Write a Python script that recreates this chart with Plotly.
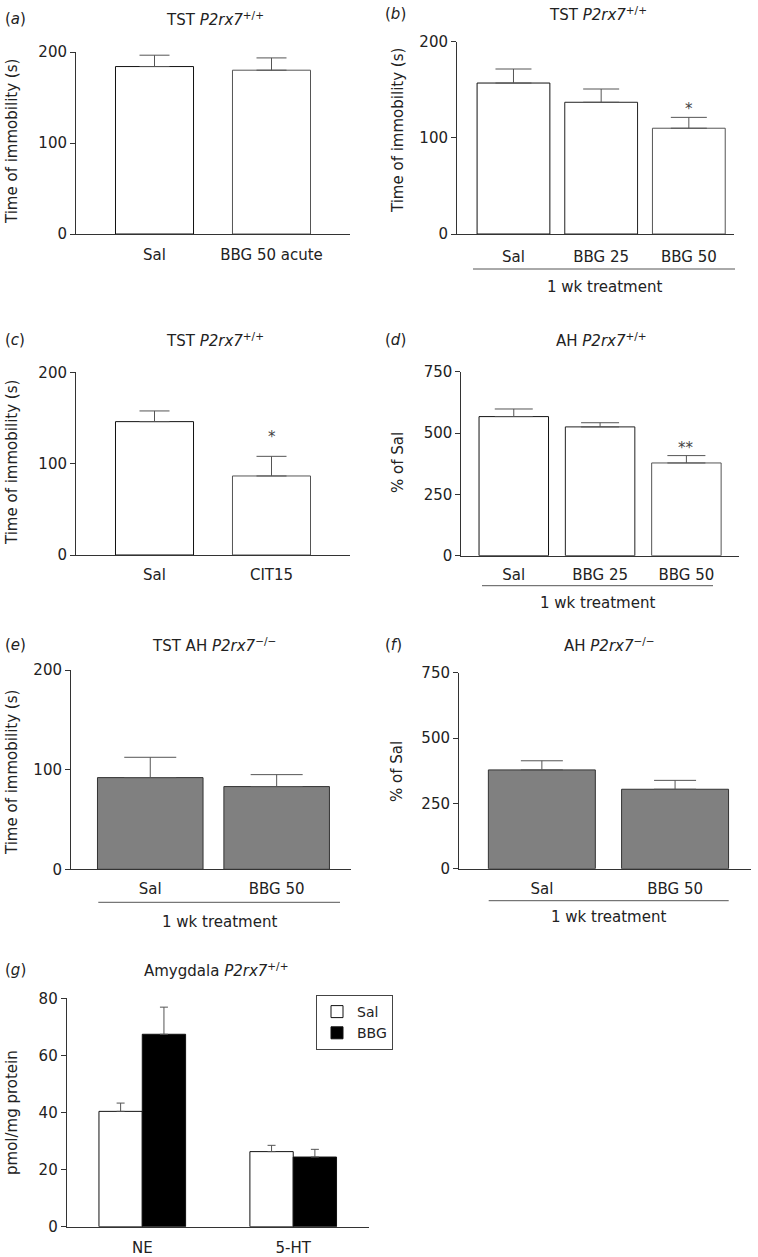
import plotly.graph_objects as go

W, H = 758, 1257
FONT = "DejaVu Sans"
FS = 15
TXT = "#222222"

# ---------------- data ----------------
a_cats = ["Sal", "BBG 50 acute"]
a_mean = [184, 180]
a_sem = [12.5, 13.5]

b_cats = ["Sal", "BBG 25", "BBG 50"]
b_mean = [157, 137, 110]
b_sem = [14.6, 13.8, 11.3]

c_cats = ["Sal", "CIT15"]
c_mean = [146, 86.5]
c_sem = [11.7, 21.5]

d_cats = ["Sal", "BBG 25", "BBG 50"]
d_mean = [567, 525, 378]
d_sem = [31, 17, 30]

e_cats = ["Sal", "BBG 50"]
e_mean = [92, 83]
e_sem = [20.4, 12]

f_cats = ["Sal", "BBG 50"]
f_mean = [378, 304]
f_sem = [35, 34]

g_cats = ["NE", "5-HT"]
g_sal_mean = [40.4, 26.3]
g_sal_sem = [2.9, 2.2]
g_bbg_mean = [67.4, 24.4]
g_bbg_sem = [9.5, 2.7]

# ---------------- layout helpers ----------------
def px_x(p):
    return p / W

def px_y(p):
    return 1 - p / H

fig = go.Figure()
layout = dict(
    width=W, height=H, autosize=False,
    margin=dict(l=0, r=0, t=0, b=0, pad=0, autoexpand=False),
    paper_bgcolor="white", plot_bgcolor="white",
    font=dict(family=FONT, size=FS, color=TXT),
    barmode="overlay",
    showlegend=True,
    hovermode=False,
)
annotations = []
shapes = []

def add_axes(idx, xdom, ydom, xrange, yrange, ytickvals, labpad):
    xa = "xaxis" if idx == 1 else f"xaxis{idx}"
    ya = "yaxis" if idx == 1 else f"yaxis{idx}"
    yref = "y" if idx == 1 else f"y{idx}"
    xref = "x" if idx == 1 else f"x{idx}"
    layout[xa] = dict(
        domain=[px_x(xdom[0]), px_x(xdom[1])], range=xrange, anchor=yref,
        showline=True, linecolor="#333", linewidth=1, showgrid=False, zeroline=False,
        ticks="outside", ticklen=labpad, tickcolor="rgba(0,0,0,0)", automargin=False,
        tickfont=dict(family=FONT, size=FS, color=TXT), type="category", fixedrange=True,
    )
    layout[ya] = dict(
        domain=[px_y(ydom[1]), px_y(ydom[0])], range=yrange, anchor=xref,
        showline=True, linecolor="#333", linewidth=1, showgrid=False, zeroline=False,
        ticks="outside", ticklen=5, tickcolor="#333", tickvals=ytickvals, automargin=False,
        tickfont=dict(family=FONT, size=FS, color=TXT), fixedrange=True,
    )

def bar(idx, cats, mean, sem, width, fill, lines, capw, name=None, show=False, offset=None):
    xref = "x" if idx == 1 else f"x{idx}"
    yref = "y" if idx == 1 else f"y{idx}"
    kw = {}
    if offset is not None:
        kw["offset"] = offset
    fig.add_trace(go.Bar(
        x=cats, y=mean, width=width, xaxis=xref, yaxis=yref,
        marker=dict(color=fill, line=dict(color=lines, width=1)),
        error_y=dict(type="data", array=sem, arrayminus=[0] * len(sem), symmetric=False,
                     color="#555", thickness=1, width=capw),
        name=name or "", showlegend=show, **kw,
    ))

def title(xc, y, text):
    annotations.append(dict(x=px_x(xc), y=px_y(y), xref="paper", yref="paper", text=text,
                            showarrow=False, xanchor="center", yanchor="middle",
                            font=dict(family=FONT, size=FS, color=TXT)))

def plabel(x, y, letter):
    annotations.append(dict(x=px_x(x), y=px_y(y), xref="paper", yref="paper",
                            text=f"(<i>{letter}</i>)", showarrow=False,
                            xanchor="left", yanchor="middle",
                            font=dict(family=FONT, size=FS, color=TXT)))

def ylab(x, y, text):
    annotations.append(dict(x=px_x(x), y=px_y(y), xref="paper", yref="paper", text=text,
                            showarrow=False, textangle=-90, xanchor="center", yanchor="middle",
                            font=dict(family=FONT, size=FS, color=TXT)))

def star(idx, xv, yv, text):
    xref = "x" if idx == 1 else f"x{idx}"
    yref = "y" if idx == 1 else f"y{idx}"
    annotations.append(dict(x=xv, y=yv, xref=xref, yref=yref, text=text, showarrow=False,
                            xanchor="center", yanchor="middle", yshift=-4,
                            font=dict(family=FONT, size=FS, color="#444444")))

def bracket(x0, x1, y, ytext, text="1 wk treatment"):
    shapes.append(dict(type="line", xref="paper", yref="paper",
                       x0=px_x(x0), x1=px_x(x1), y0=px_y(y), y1=px_y(y),
                       line=dict(color="#555", width=1)))
    annotations.append(dict(x=px_x((x0 + x1) / 2), y=px_y(ytext), xref="paper", yref="paper",
                            text=text, showarrow=False, xanchor="center", yanchor="middle",
                            font=dict(family=FONT, size=FS, color=TXT)))

P2 = "<i>P2rx7</i>"
PP = "<sup>+/+</sup>"
MM = "<sup>\u2212/\u2212</sup>"

# ---------------- panel a ----------------
add_axes(1, (76, 350), (52, 234), [-0.671, 1.671], [0, 200], [0, 100, 200], 7)
bar(1, a_cats, a_mean, a_sem, 0.667, "white", ["#111", "#555"], 15)
title(215, 19, "TST " + P2 + PP)
plabel(3, 19, "a")
ylab(12, 142, "Time of immobility (s)")

# ---------------- panel b ----------------
add_axes(2, (457, 734), (41.7, 234), [-0.644, 2.515], [0, 200], [0, 100, 200], 9)
bar(2, b_cats, b_mean, b_sem, 0.83, "white", ["#111", "#222", "#555"], 18)
title(598, 14, "TST " + P2 + PP)
plabel(383, 14, "b")
ylab(398, 131, "Time of immobility (s)")
star(2, "BBG 50", 134, "*")
bracket(473, 735, 269, 287)

# ---------------- panel c ----------------
add_axes(3, (76, 350), (372.3, 555), [-0.671, 1.671], [0, 200], [0, 100, 200], 6)
bar(3, c_cats, c_mean, c_sem, 0.667, "white", ["#111", "#555"], 15)
title(215, 340, "TST " + P2 + PP)
plabel(3, 340, "c")
ylab(12, 463, "Time of immobility (s)")
star(3, "CIT15", 133.6, "*")

# ---------------- panel d ----------------
add_axes(4, (461.3, 738.7), (371.7, 555.7), [-0.608, 2.606], [0, 750], [0, 250, 500, 750], 5)
bar(4, d_cats, d_mean, d_sem, 0.805, "white", ["#111", "#222", "#555"], 19)
title(601, 340, "AH " + P2 + PP)
plabel(383, 340, "d")
ylab(398, 463, "% of Sal")
star(4, "BBG 50", 454, "**")
bracket(482, 713, 585.7, 603.3)

# ---------------- panel e ----------------
add_axes(5, (71, 351), (670, 869.3), [-0.627, 1.588], [0, 200], [0, 100, 200], 6)
bar(5, e_cats, e_mean, e_sem, 0.835, "#808080", "#333", 26)
title(214, 645, "TST AH " + P2 + MM)
plabel(3, 645, "e")
ylab(12, 773, "Time of immobility (s)")
bracket(98.3, 340, 902.3, 921.7)

# ---------------- panel f ----------------
add_axes(6, (459, 751), (672.7, 868.7), [-0.622, 1.570], [0, 750], [0, 250, 500, 750], 6)
bar(6, f_cats, f_mean, f_sem, 0.803, "#808080", "#333", 21)
title(609, 645, "AH " + P2 + MM)
plabel(383, 645, "f")
ylab(397, 772, "% of Sal")
bracket(488.7, 728.7, 900.7, 917)

# ---------------- panel g ----------------
add_axes(7, (66.7, 369.3), (998.3, 1226.7), [-0.5007, 1.504], [0, 80], [0, 20, 40, 60, 80], 7)
bw = 0.287
bar(7, g_cats, g_sal_mean, g_sal_sem, bw, "white", "#111", 4, name="Sal", show=True, offset=-bw)
bar(7, g_cats, g_bbg_mean, g_bbg_sem, bw, "black", "#111", 4, name="BBG", show=True, offset=0)
title(216, 970, "Amygdala " + P2 + PP)
plabel(3, 970, "g")
ylab(12, 1113, "pmol/mg protein")
star(7, bw / 2, 81.5, "**")

layout["legend"] = dict(
    x=px_x(316), y=px_y(995), xanchor="left", yanchor="top",
    bordercolor="#444", borderwidth=1, bgcolor="white",
    font=dict(family=FONT, size=14, color=TXT), itemwidth=30,
    tracegroupgap=0, traceorder="normal",
)
layout["annotations"] = annotations
layout["shapes"] = shapes
fig.update_layout(**layout)

fig.write_html(
    "out.html",
    config={"displayModeBar": False, "staticPlot": True},
    post_script="document.body.style.margin='0';document.body.style.padding='0';",
)
